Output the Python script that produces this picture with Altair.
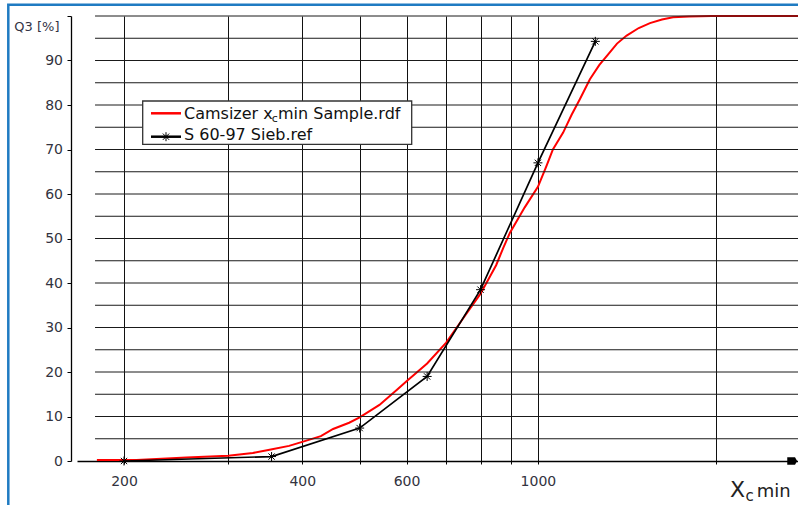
import altair as alt
import pandas as pd

# ---------------- data ----------------
cam_x = [180, 210, 255, 300, 330, 354, 380, 400, 430, 451, 480, 500, 540, 580, 600, 650,
         700, 750, 800, 850, 874, 897, 950, 1000, 1034, 1060, 1103, 1140, 1177, 1224,
         1270, 1314, 1360, 1412, 1480, 1546, 1620, 1691, 1800, 1965, 2749]
cam_q3 = [0.2, 0.2, 0.8, 1.2, 1.8, 2.6, 3.4, 4.3, 5.6, 7.2, 8.6, 9.8, 12.6, 16.2, 17.9, 21.9,
          26.6, 32.3, 37.6, 44.0, 47.9, 51.3, 57.0, 61.6, 66.3, 70.0, 73.8, 77.8, 81.3, 85.8,
          89.0, 91.4, 93.8, 95.6, 97.3, 98.4, 99.2, 99.7, 99.9, 100.0, 100.0]

sieve_x = [200, 355, 500, 650, 800, 1000, 1250]
sieve_q3 = [0.0, 1.0, 7.4, 19.0, 38.5, 67.0, 94.3]

x_grid = [200, 300, 400, 500, 600, 700, 800, 900, 1000, 2000]
x_labels = [200, 400, 600, 1000]
y_ticks = [0, 10, 20, 30, 40, 50, 60, 70, 80, 90, 100]
y_labels = [0, 10, 20, 30, 40, 50, 60, 70, 80, 90]
y_grid = [5, 10, 15, 20, 25, 30, 35, 40, 45, 50, 55, 60, 65, 70, 75, 80, 85, 90, 95, 100]

series_cam = "Camsizer xcmin Sample.rdf"
series_sieve = "S 60-97 Sieb.ref"

# ---------------- layout constants ----------------
X_MIN, X_MAX = 166.6, 2749.0
GRID_X0 = 178.7
FONT = "DejaVu Sans"
STAR = "M-1,0L1,0M0,-1L0,1M-0.7,-0.7L0.7,0.7M-0.7,0.7L0.7,-0.7"
ARROW = "M-1.95,-0.68L-0.55,-0.68L-0.15,0L-0.55,0.68L-1.95,0.68Z"

xs = alt.Scale(type="log", domain=[X_MIN, X_MAX], nice=False)
ys = alt.Scale(domain=[0, 100], nice=False, zero=False)

lab_expr_x = "(" + "||".join(f"datum.value=={v}" for v in x_labels) + ") ? format(datum.value,'d') : ''"
lab_expr_y = "(" + "||".join(f"datum.value=={v}" for v in y_labels) + ") ? format(datum.value,'d') : ''"

x_axis = alt.Axis(values=x_grid, labelExpr=lab_expr_x, grid=True, gridColor="#111111",
                  gridWidth=1, domainColor="#000000", domainWidth=1.3, tickColor="#000000",
                  tickSize=3, labelFont=FONT, labelFontSize=14, labelColor="#333340",
                  labelPadding=10, labelFlush=False, labelOverlap=False, title=None)
y_axis = alt.Axis(values=y_ticks, labelExpr=lab_expr_y, grid=False, offset=6,
                  domainColor="#000000", domainWidth=1.3, tickColor="#000000", tickSize=4,
                  labelFont=FONT, labelFontSize=14, labelColor="#333340", labelPadding=4.5,
                  labelOverlap=False, title=None)

cam_df = pd.DataFrame({"x": cam_x, "q3": cam_q3, "series": series_cam})
sieve_df = pd.DataFrame({"x": sieve_x, "q3": sieve_q3, "series": series_sieve})
grid_df = pd.DataFrame({"y": y_grid, "x0": GRID_X0, "x1": X_MAX})
one = pd.DataFrame({"a": [0]})

frame = alt.Chart(one).mark_rect(fill="white", fillOpacity=0, stroke="#1f7bc2",
                                 strokeWidth=2.5).encode(
    x=alt.value(-68.7), x2=alt.value(900), y=alt.value(-11.3), y2=alt.value(700))

hgrid = alt.Chart(grid_df).mark_rule(color="#1a1a1a", strokeWidth=1).encode(
    x=alt.X("x0:Q", scale=xs, axis=x_axis), x2="x1:Q",
    y=alt.Y("y:Q", scale=ys, axis=y_axis))

red = alt.Chart(cam_df).mark_line(color="#ff0000", strokeWidth=2).encode(
    x=alt.X("x:Q", scale=xs, axis=x_axis),
    y=alt.Y("q3:Q", scale=ys, axis=y_axis))

black = alt.Chart(sieve_df).mark_line(color="#000000", strokeWidth=1.7).encode(
    x=alt.X("x:Q", scale=xs, axis=x_axis), y=alt.Y("q3:Q", scale=ys, axis=y_axis))

stars = alt.Chart(sieve_df).mark_point(shape=STAR, size=81, filled=False, color="#000000",
                                       strokeWidth=1, opacity=1).encode(
    x=alt.X("x:Q", scale=xs, axis=x_axis), y=alt.Y("q3:Q", scale=ys, axis=y_axis))

arrow = alt.Chart(pd.DataFrame({"x": [X_MAX], "y": [0]})).mark_point(
    shape=ARROW, size=121, filled=True, color="#000000", opacity=1).encode(
    x=alt.X("x:Q", scale=xs, axis=x_axis), y=alt.Y("y:Q", scale=ys, axis=y_axis))

# legend (drawn by hand to allow the subscript)
leg_box = alt.Chart(one).mark_rect(fill="white", stroke="#333333", strokeWidth=1.3).encode(
    x=alt.value(65.7), x2=alt.value(334.7), y=alt.value(85), y2=alt.value(128.3))
leg_red = alt.Chart(one).mark_rule(color="#ff0000", strokeWidth=2.5).encode(
    x=alt.value(74), x2=alt.value(104), y=alt.value(97.3))
leg_black = alt.Chart(one).mark_rule(color="#000000", strokeWidth=2.5).encode(
    x=alt.value(74), x2=alt.value(104), y=alt.value(120.7))
leg_star = alt.Chart(one).mark_point(shape=STAR, size=81, filled=False, color="#000000",
                                     strokeWidth=1, opacity=1).encode(
    x=alt.value(89), y=alt.value(120.7))


def txt(s, x, y, size, color="#111111", align="left"):
    return alt.Chart(one).mark_text(text=s, font=FONT, fontSize=size, color=color,
                                    align=align, baseline="alphabetic").encode(
        x=alt.value(x), y=alt.value(y))


leg_t1a = txt("Camsizer x", 107, 103, 16)
leg_t1b = txt("c", 194.7, 105.7, 11)
leg_t1c = txt("min Sample.rdf", 201, 103, 16)
leg_t2 = txt(series_sieve, 107, 124, 16)

y_title = txt("Q3 [%]", -17.5, 14.5, 13, color="#333344", align="right")
x_t1 = txt("X", 653, 481.3, 22, color="#222222")
x_t2 = txt("c", 668.5, 485, 15, color="#222222")
x_t3 = txt("min", 679.7, 481.3, 18, color="#222222")

chart = alt.layer(
    red, frame, hgrid, black, stars, arrow,
    leg_box, leg_red, leg_black, leg_star, leg_t1a, leg_t1b, leg_t1c, leg_t2,
    y_title, x_t1, x_t2, x_t3,
).properties(
    width=721, height=445,
    padding={"left": 77, "top": 16, "right": 0, "bottom": 44},
    autosize=alt.AutoSizeParams(type="none"),
    background="white",
).configure_view(stroke=None)

chart.save("out.html", embed_options={"renderer": "svg", "actions": False})
